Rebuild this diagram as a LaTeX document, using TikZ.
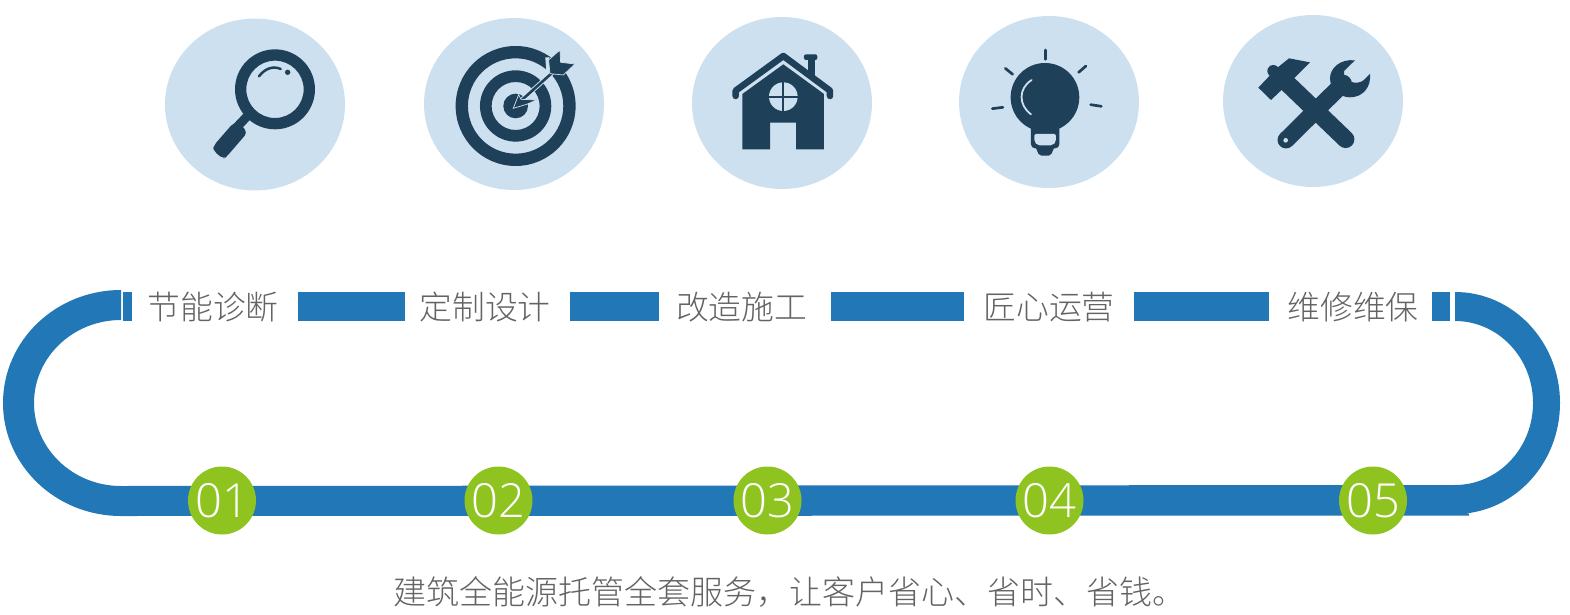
\documentclass[tikz,border=0pt]{standalone}
\usepackage{fontspec}
\usepackage{tikz}
\usetikzlibrary{shapes.geometric,positioning,calc}
\newfontfamily\cjk{Noto Sans CJK SC Light}
\newfontfamily\numfont{Open Sans Light}
\definecolor{trackblue}{HTML}{2277B7}
\definecolor{bubbleblue}{HTML}{CDE0F0}
\definecolor{icondark}{HTML}{1F4059}
\definecolor{dotgreen}{HTML}{8FC31F}
\definecolor{textgray}{HTML}{636363}
\tikzset{
  pixels/.style={x=.3333pt,y=-.3333pt},
  bubble/.style={ellipse,fill=bubbleblue,minimum width=180pt,minimum height=172pt,inner sep=0pt},
  stage/.style={inner sep=0pt,text width=130pt,align=center,text height=29pt,text depth=4pt,text=textgray,font=\cjk\fontsize{32.8}{36}\selectfont},
  numdot/.style={circle,fill=dotgreen,minimum size=68pt,inner sep=0pt,text=white,font=\numfont\fontsize{47}{50}\selectfont},
  track/.style={draw=trackblue,line width=29.5pt},
  icon/.style={fill=icondark,draw=none},
  ray/.style={draw=icondark,line width=2.7pt,line cap=round},
  gleam/.style={draw=bubbleblue,line cap=round}
}
\begin{document}
\begin{tikzpicture}[x=1pt,y=-1pt]
\useasboundingbox (0,0) rectangle (1570,615);

\node[bubble] (B1) at (255,104.5) {};
\node[bubble] (B2) at (514,104) {};
\node[bubble] (B3) at (782,103) {};
\node[bubble] (B4) at (1049,102) {};
\node[bubble] (B5) at (1313,101) {};

\begin{scope}[shift={(150,0)},pixels]
\fill[icon,even odd rule] (375,268) circle [radius=120] circle [radius=86];
\draw[icondark,line width=9pt] (297,343) -- (262,380);
\fill[icon,rounded corners=4pt] (250,369) -- (268,367) -- (292,398) -- (230,470) -- (220,477) -- (190,452) -- (190,438) -- cycle;
\draw[icondark,line width=2.5pt,line cap=round] (327,229) .. controls (345,205) and (370,197) .. (392,207);
\fill[icon] (413,217) circle [radius=8];
\fill[icon,even odd rule] (1097,318) circle [radius=180] circle [radius=143] circle [radius=107] circle [radius=72] circle [radius=37];
\draw[bubbleblue,line width=4pt] (1192,172) -- (1196,225);
\draw[bubbleblue,line width=4.5pt] (1225,202) -- (1110,305);
\draw[icondark,line width=2.6pt] (1225,202) -- (1110,305);
\fill[icon,draw=bubbleblue,line width=.7pt] (1230,150) -- (1232,187) -- (1275,192) -- (1240,225) -- (1200,221) -- (1196,180) -- cycle;
\fill[icon,draw=bubbleblue,line width=.7pt] (1090,325) -- (1106,284) -- (1113,298) -- (1160,300) -- (1130,313) -- cycle;
\end{scope}

\begin{scope}[shift={(680,0)},pixels]
\draw[icondark,line width=6.5pt,line cap=round,line join=round] (167,288) -- (167,272) -- (310,168) -- (450,272) -- (450,288);
\fill[icon] (384,175) rectangle (404,228);
\fill[icon,rounded corners=2pt] (372,163) rectangle (412,180);
\fill[icon] (187,282) -- (310,193) -- (432,282) -- (432,448) -- (348,448) -- (348,368) -- (270,368) -- (270,448) -- (187,448) -- cycle;
\fill[bubbleblue] (310,290) circle [radius=43];
\fill[icon] (267,287) rectangle (353,293);
\fill[icon] (307,247) rectangle (313,333);
\fill[icon] (1095,292) circle [radius=103];
\fill[icon,rounded corners=4pt] (1053,360) -- (1053,445) -- (1138,445) -- (1138,360) -- cycle;
\fill[icon,rounded corners=2pt] (1066,440) -- (1078,467) -- (1112,467) -- (1124,440) -- cycle;
\fill[bubbleblue,rounded corners=2pt] (1063,402) -- (1128,402) -- (1128,425) -- (1118,436) -- (1073,436) -- (1063,425) -- cycle;
\draw[gleam,line width=1.8pt] (1055,240) .. controls (1015,265) and (1015,315) .. (1053,343);
\draw[ray] (1096,150) -- (1096,178);
\draw[ray] (976,205) -- (998,223);
\draw[ray] (1218,198) -- (1196,217);
\draw[ray] (937,326) -- (969,322);
\draw[ray] (1232,314) -- (1264,319);
\end{scope}

\begin{scope}[shift={(1210,0)},pixels]
\draw[icondark,line width=17.5pt,line cap=round] (235,253) -- (407,418);
\draw[icondark,line width=17pt,line cap=round] (228,420) -- (400,250);
\fill[icon] (145,263) -- (183,300) -- (255,232) -- (300,187) -- (237,175) -- (200,205) -- cycle;
\fill[icon] (190,213) circle [radius=18];
\fill[icon] (435,181) .. controls (390,176) and (360,205) .. (360,235) .. controls (360,268) and (390,292) .. (420,292) .. controls (458,292) and (484,262) .. (480,222) -- (462,240) .. controls (440,258) and (398,245) .. (402,213) -- cycle;
\fill[bubbleblue] (227,421) circle [radius=7];
\end{scope}

\node[stage] (T1) at (212.5,306.5) {节能诊断};
\node[stage] (T2)[right of=T1,node distance=272pt] {定制设计};
\node[stage] (T3)[right of=T2,node distance=256.5pt] {改造施工};
\node[stage] (T4)[right of=T3,node distance=307.5pt] {匠心运营};
\node[stage] (T5)[right of=T4,node distance=304pt] {维修维保};

\draw[track] ([xshift=-24pt]T1.west) -- ([xshift=-15pt]T1.west);
\draw[track] ([xshift=20pt]T1.east) -- ([xshift=-14pt]T2.west);
\draw[track] ([xshift=20pt]T2.east) -- ([xshift=-16.5pt]T3.west);
\draw[track] ([xshift=24.5pt]T3.east) -- ([xshift=-19pt]T4.west);
\draw[track] ([xshift=20pt]T4.east) -- ([xshift=-18pt]T5.west);
\draw[track] ([xshift=14pt]T5.east) -- ([xshift=32pt]T5.east);

\fill[trackblue] (121,290) arc [start angle=270,end angle=90,x radius=118,y radius=113] -- (1469,515.5) -- (1469,513.5) -- (1455,514) arc [start angle=90,end angle=-90,x radius=105,y radius=111] -- (1455,321) arc [start angle=-90,end angle=90,x radius=78,y radius=82] -- (121,486) arc [start angle=90,end angle=270,x radius=87,y radius=83] -- cycle;

\node[numdot] (N1) at (222,500.5) {01};
\node[numdot] (N2)[right of=N1,node distance=276.5pt] {02};
\node[numdot] (N3)[right of=N2,node distance=269pt] {03};
\node[numdot] (N4)[right of=N3,node distance=282pt] {04};
\node[numdot] (N5)[right of=N4,node distance=323.5pt] {05};

\node[inner sep=0pt,text=textgray,font=\cjk\fontsize{33}{36}\selectfont] (S) at (789,592) {建筑全能源托管全套服务，让客户省心、省时、省钱。};
\end{tikzpicture}
\end{document}
